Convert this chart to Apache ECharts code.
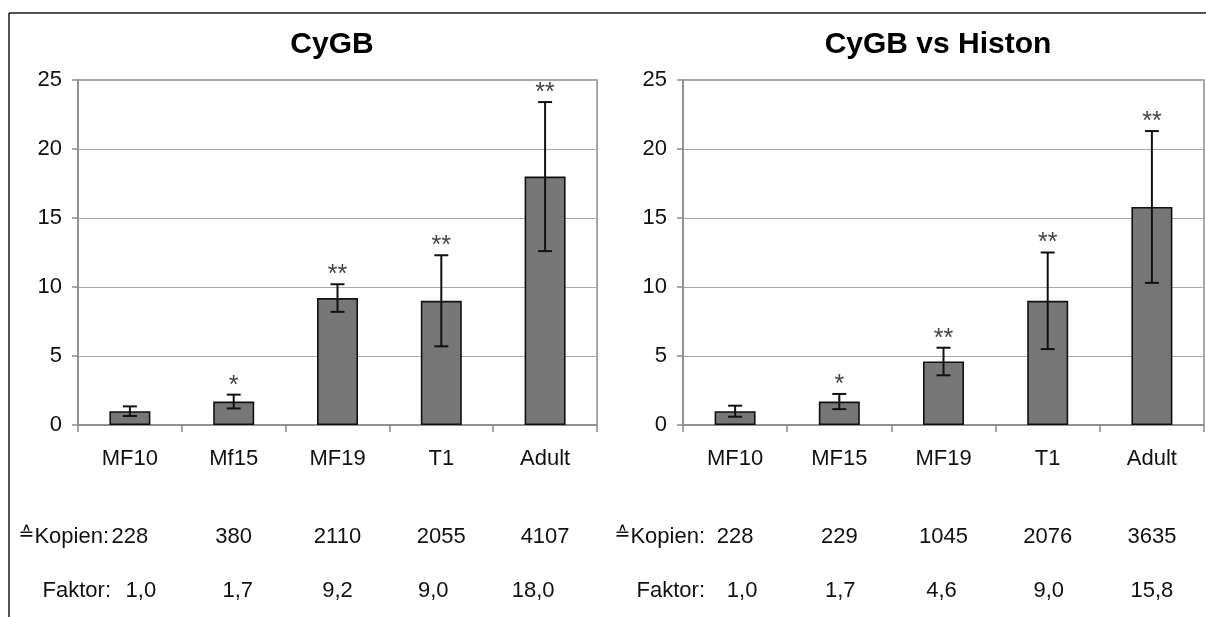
<!DOCTYPE html>
<html>
<head>
<meta charset="utf-8">
<script src="https://cdn.jsdelivr.net/npm/echarts@6/dist/echarts.min.js"></script>
<style>
  html, body { margin: 0; padding: 0; background: #fff; }
  #chart { width: 1206px; height: 617px; }
</style>
</head>
<body>
<div id="chart"></div>
<script>
// CyGB expression, raw (left) and normalised to histone (right)
const categoriesA = ['MF10', 'Mf15', 'MF19', 'T1', 'Adult'];
const categoriesB = ['MF10', 'MF15', 'MF19', 'T1', 'Adult'];

const faktorA = [1.0, 1.7, 9.2, 9.0, 18.0];
const errorA  = [0.35, 0.5, 1.0, 3.3, 5.4];
const starsA  = ['', '*', '**', '**', '**'];
const kopienA = [228, 380, 2110, 2055, 4107];

const faktorB = [1.0, 1.7, 4.6, 9.0, 15.8];
const errorB  = [0.4, 0.55, 1.0, 3.5, 5.5];
const starsB  = ['', '*', '**', '**', '**'];
const kopienB = [228, 229, 1045, 2076, 3635];

const yTicks = [0, 5, 10, 15, 20, 25];

const titles = ['CyGB', 'CyGB vs Histon'];
const kopienSymbol = '\u2259';
const kopienWord = 'Kopien:';
const faktorLabel = 'Faktor:';

const FONT = '"Liberation Sans", Arial, Helvetica, sans-serif';
const TEXT = '#111';
const AXIS_GRAY = '#8a8a8a';

// hand-set horizontal nudges of the "Faktor" row (typed text, not aligned to the bars)
const faktorNudgeA = [11, 4, 0, -8, -12];
const faktorNudgeB = [7, 1, -2, 1, 0];

const fmtFaktor = v => v.toFixed(1).replace('.', ',');

const grids = [
  { left: 78, top: 80, width: 519, height: 345 },
  { left: 683, top: 80, width: 521, height: 345 }
];

const ROW_KOPIEN_Y = 537;
const ROW_FAKTOR_Y = 591;

function makeXAxes(gridIndex, cats, kopien) {
  const base = {
    gridIndex,
    type: 'category',
    position: 'bottom',
    boundaryGap: true,
    splitLine: { show: false }
  };
  return [
    Object.assign({}, base, {
      data: cats,
      axisLine: { show: true, onZero: false, lineStyle: { color: AXIS_GRAY, width: 1.5 } },
      axisTick: { show: true, length: 7, lineStyle: { color: AXIS_GRAY, width: 1.5 } },
      axisLabel: { margin: 23, fontSize: 22, color: TEXT, fontFamily: FONT, interval: 0 }
    }),
    Object.assign({}, base, {
      data: kopien.map(String),
      offset: 81,
      axisLine: { show: false },
      axisTick: { show: false },
      axisLabel: { margin: 20, fontSize: 22, color: TEXT, fontFamily: FONT, interval: 0 }
    })
  ];
}

function makeYAxis(gridIndex) {
  return {
    gridIndex,
    type: 'value',
    min: yTicks[0],
    max: yTicks[yTicks.length - 1],
    interval: yTicks[1] - yTicks[0],
    axisLine: { show: true, lineStyle: { color: AXIS_GRAY, width: 1.5 } },
    axisTick: { show: true, length: 6, lineStyle: { color: AXIS_GRAY, width: 1.5 } },
    axisLabel: { margin: 16, fontSize: 22, color: TEXT, fontFamily: FONT },
    splitLine: { show: true, lineStyle: { color: '#a8a8a8', width: 1.2 } }
  };
}

function barSeries(axisBase, gridIdx, values) {
  return {
    type: 'bar',
    xAxisIndex: axisBase,
    yAxisIndex: gridIdx,
    data: values,
    barWidth: 41,
    itemStyle: { color: '#777777', borderColor: '#111', borderWidth: 1.6 },
    emphasis: { disabled: true },
    z: 2
  };
}

function errorSeries(axisBase, gridIdx, values, errors, stars) {
  return {
    type: 'custom',
    xAxisIndex: axisBase,
    yAxisIndex: gridIdx,
    data: values.map((v, i) => [i, v, errors[i]]),
    encode: { x: 0, y: 1 },
    z: 5,
    silent: true,
    renderItem(params, api) {
      const i = api.value(0);
      const v = api.value(1);
      const e = api.value(2);
      const hi = api.coord([i, v + e]);
      const lo = api.coord([i, v - e]);
      const half = 7;
      const style = { stroke: '#111', lineWidth: 2 };
      const children = [
        { type: 'line', shape: { x1: hi[0], y1: hi[1], x2: lo[0], y2: lo[1] }, style },
        { type: 'line', shape: { x1: hi[0] - half, y1: hi[1], x2: hi[0] + half, y2: hi[1] }, style },
        { type: 'line', shape: { x1: lo[0] - half, y1: lo[1], x2: lo[0] + half, y2: lo[1] }, style }
      ];
      const mark = stars[params.dataIndex];
      if (mark) {
        children.push({
          type: 'text',
          style: {
            x: hi[0], y: hi[1] - 9,
            text: mark,
            fill: '#444',
            font: '25px ' + FONT,
            textAlign: 'center',
            textVerticalAlign: 'middle'
          }
        });
      }
      return { type: 'group', children };
    }
  };
}

const chart = echarts.init(document.getElementById('chart'), null, { renderer: 'canvas' });

const gridOpts = grids.map(g => Object.assign({
  show: true,
  borderColor: AXIS_GRAY,
  borderWidth: 1.5,
  backgroundColor: 'transparent',
  containLabel: false,
  outerBoundsMode: 'none'
}, g));

const rowText = (x, y, text, align, rich) => ({
  type: 'text',
  x, y,
  style: {
    text,
    fill: TEXT,
    font: '22px ' + FONT,
    textAlign: align || 'right',
    textVerticalAlign: 'middle',
    rich
  }
});

const kopienRich = {
  s: { fontSize: 19, fontFamily: 'DejaVu Sans', fill: TEXT, verticalAlign: 'top', padding: [0, 0, 3, 0] },
  w: { fontSize: 22, fontFamily: FONT, fill: TEXT }
};
const kopienText = '{s|' + kopienSymbol + '}{w|' + kopienWord + '}';

chart.setOption({
  animation: false,
  backgroundColor: '#fff',
  title: [
    {
      text: titles[0], left: 327, top: 25, textAlign: 'center',
      textStyle: { fontSize: 30, fontWeight: 'bold', color: '#000', fontFamily: FONT }
    },
    {
      text: titles[1], left: 933, top: 25, textAlign: 'center',
      textStyle: { fontSize: 30, fontWeight: 'bold', color: '#000', fontFamily: FONT }
    }
  ],
  grid: gridOpts,
  xAxis: [
    ...makeXAxes(0, categoriesA, kopienA),
    ...makeXAxes(1, categoriesB, kopienB)
  ],
  yAxis: [makeYAxis(0), makeYAxis(1)],
  series: [
    barSeries(0, 0, faktorA),
    errorSeries(0, 0, faktorA, errorA, starsA),
    barSeries(2, 1, faktorB),
    errorSeries(2, 1, faktorB, errorB, starsB)
  ]
});

// row texts below the axes; Faktor values placed from the category scale
const graphics = [
  // outer frame (top and left edges)
  { type: 'line', shape: { x1: 9, y1: 13, x2: 1206, y2: 13 }, style: { stroke: '#1a1a1a', lineWidth: 1.5 } },
  { type: 'line', shape: { x1: 9, y1: 13, x2: 9, y2: 617 }, style: { stroke: '#1a1a1a', lineWidth: 1.5 } },
  rowText(109, ROW_KOPIEN_Y, kopienText, 'right', kopienRich),
  rowText(111, ROW_FAKTOR_Y, faktorLabel),
  rowText(705, ROW_KOPIEN_Y, kopienText, 'right', kopienRich),
  rowText(705, ROW_FAKTOR_Y, faktorLabel)
];

[[0, faktorA, faktorNudgeA], [2, faktorB, faktorNudgeB]].forEach(([axisIdx, values, nudge]) => {
  values.forEach((v, i) => {
    const x = chart.convertToPixel({ xAxisIndex: axisIdx }, i);
    graphics.push(rowText(x + nudge[i], ROW_FAKTOR_Y, fmtFaktor(v), 'center'));
  });
});

chart.setOption({ graphic: graphics });
</script>
</body>
</html>
